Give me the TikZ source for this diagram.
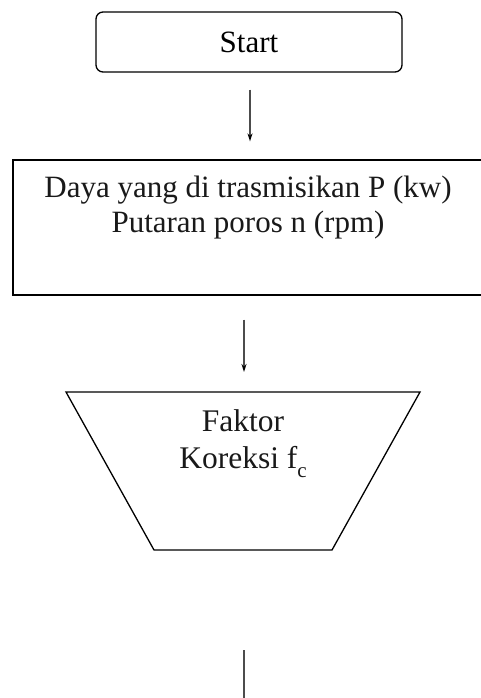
\documentclass[tikz,border=0pt]{standalone}
\usepackage{fontspec}
\setmainfont{Liberation Serif}
\usetikzlibrary{arrows.meta}
\tikzset{
  boxline/.style={draw=black, line width=1.3pt},
  startbox/.style={boxline, rounded corners=7pt, minimum width=306pt, minimum height=60pt, inner sep=0pt},
  inbox/.style={boxline, minimum width=470pt, minimum height=135pt, inner sep=0pt},
  txt/.style={align=center, inner sep=0pt, text=black!90},
  flow/.style={draw=black!70, line width=1.8pt, -{Stealth[length=8pt,width=5pt,black]}}
}
\newcommand{\subc}[1]{\raisebox{-9pt}{\fontsize{21}{21}\selectfont #1}}
\begin{document}
\begin{tikzpicture}[x=1pt, y=-1pt]
		%%%%% START %%%%%
		\useasboundingbox (0,0) rectangle (481,698);
		
		\node[startbox, font=\fontsize{31}{35}\selectfont] (start) at (249,42) {Start};
		
		\node[inbox] (input) at (248,227.5) {};
		\node[txt, anchor=north, font=\fontsize{31}{35}\selectfont] (intext) at (248,175.5)
		  {Daya yang di trasmisikan P (kw)\\Putaran poros n (rpm)};
		
		% trapesium faktor koreksi
		\draw[boxline] (66,392) -- (420,392) -- (332,550) -- (154,550) -- cycle;
		\coordinate (ftop) at (244,392);
		\coordinate (fbot) at (244,550);
		\node[txt, anchor=north, font=\fontsize{31.5}{37}\selectfont] (faktor) at (243,409.5)
		  {Faktor\\Koreksi f\subc{c}};
		
		\coordinate (next) at (244,720);
		
		\draw[flow, shorten <=17pt, shorten >=18pt] (start.south -| 250,0) -- (input.north -| 250,0);
		\draw[flow, shorten <=24pt, shorten >=20pt] (ftop |- input.south) -- (ftop);
		\draw[flow, shorten <=100pt] (fbot) -- (next);
		
		%%%%% END %%%%%
	\end{tikzpicture}
\end{document}
